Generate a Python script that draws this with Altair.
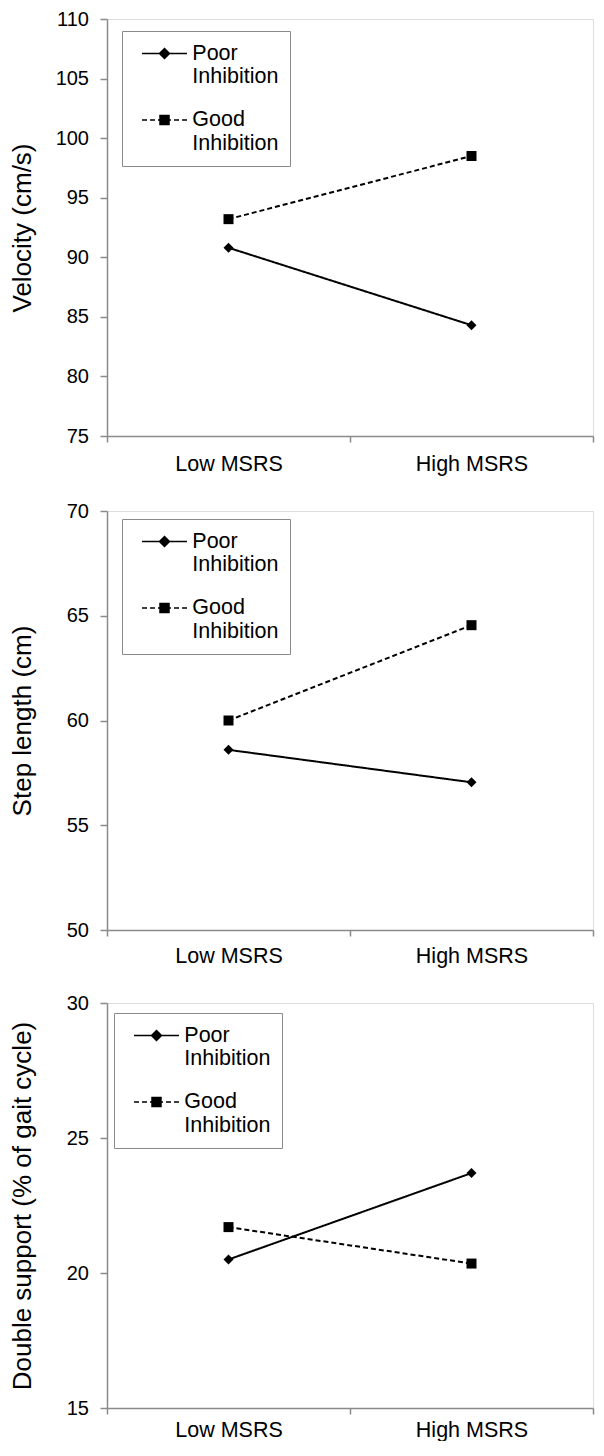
import altair as alt
import pandas as pd

# ---- data ----
categories = ["Low MSRS", "High MSRS"]
series = ["Poor Inhibition", "Good Inhibition"]

velocity_poor = [90.8, 84.3]
velocity_good = [93.2, 98.5]
step_poor = [58.6, 57.05]
step_good = [60.0, 64.55]
dsupport_poor = [20.5, 23.7]
dsupport_good = [21.7, 20.35]

y_titles = ["Velocity (cm/s)", "Step length (cm)", "Double support (% of gait cycle)"]
y_domains = [[75, 110], [50, 70], [15, 30]]
y_ticks = [[75, 80, 85, 90, 95, 100, 105, 110], [50, 55, 60, 65, 70], [15, 20, 25, 30]]

FONT = "Liberation Sans"
GRAY = "#8a8a8a"

# legend symbols (unit = 10 px): line with marker, drawn with strokes only
POOR_PATH = ("M-2.25,0H2.25"
             "M-0.5,0L0,-0.5L0.5,0L0,0.5Z"
             "M-0.35,-0.15H0.35M-0.35,0.15H0.35M-0.2,-0.3H0.2M-0.2,0.3H0.2"
             "M-0.05,-0.45H0.05M-0.05,0.45H0.05")
GOOD_PATH = ("M-2.25,0H-1.75M-1.45,0H-0.95M-0.65,0H-0.45"
             "M0.45,0H0.65M0.95,0H1.45M1.75,0H2.25"
             "M-0.45,-0.45H0.45V0.45H-0.45Z"
             "M-0.45,-0.3H0.45M-0.45,-0.15H0.45M-0.45,0H0.45"
             "M-0.45,0.15H0.45M-0.45,0.3H0.45")

NB = "\u00a0"


def panel(poor, good, title, domain, ticks, width, height, title_x, lx, ly, xlab_pad):
    df = pd.DataFrame({
        "cond": categories * 2,
        "series": [series[0]] * 2 + [series[1]] * 2,
        "value": poor + good,
    })
    x = alt.X("cond:N", sort=categories,
              scale=alt.Scale(paddingInner=0, paddingOuter=0),
              axis=alt.Axis(title=None, labelAngle=0, tickBand="extent",
                            tickSize=6, labelPadding=xlab_pad, labelFontSize=21.5,
                            labelFont=FONT, labelColor="black",
                            domainColor=GRAY, tickColor=GRAY,
                            domainWidth=1.5, tickWidth=1.5))
    y = alt.Y("value:Q",
              scale=alt.Scale(domain=domain, nice=False, zero=False),
              axis=alt.Axis(values=ticks, title=title, grid=False,
                            tickSize=7, labelPadding=11.5, labelFontSize=20,
                            labelFont=FONT, labelColor="black",
                            domainColor=GRAY, tickColor=GRAY,
                            domainWidth=1.5, tickWidth=1.5,
                            titleX=title_x, titleY=height / 2,
                            titleAngle=-90, titleAlign="center",
                            titleBaseline="middle", titleFontSize=26,
                            titleFont=FONT, titleFontWeight="normal",
                            titleColor="black"))
    lines = alt.Chart(df).mark_line(color="black", strokeWidth=2).encode(
        x=x, y=y,
        strokeDash=alt.StrokeDash("series:N",
                                  scale=alt.Scale(domain=series, range=[[1, 0], [5, 3]]),
                                  legend=None),
        detail="series:N",
    )
    pts = alt.Chart(df).mark_point(filled=True, color="black", size=100, opacity=1).encode(
        x=x, y=y,
        shape=alt.Shape("series:N",
                        scale=alt.Scale(domain=series, range=["diamond", "square"]),
                        legend=None),
    )
    leg = alt.Chart(df).transform_filter("datum.value < -1000").mark_point(
        filled=False, color="black").encode(
        x=x, y=y,
        shape=alt.Shape("series:N",
                        scale=alt.Scale(domain=series, range=[POOR_PATH, GOOD_PATH]),
                        legend=alt.Legend(
                            title=None, orient="none", legendX=lx, legendY=ly,
                            symbolSize=400, symbolStrokeWidth=1.5,
                            symbolStrokeColor="black",
                            symbolOpacity=1, symbolOffset=20,
                            labelExpr=("[split(datum.label, ' ')[0], split(datum.label, ' ')[1] + '"
                                       + NB * 3 + "']"),
                            labelFontSize=21.5, labelFont=FONT, labelColor="black",
                            labelOffset=16.8, labelBaseline="middle", rowPadding=21.5,
                            padding=11.5, strokeColor=GRAY, fillColor="white")),
    )
    return alt.layer(lines, pts, leg).resolve_scale(shape="independent").properties(
        width=width, height=height)


p1 = panel(velocity_poor, velocity_good, y_titles[0], y_domains[0], y_ticks[0],
           486, 417, -85, 15, 12, 11)
p2 = panel(step_poor, step_good, y_titles[1], y_domains[1], y_ticks[1],
           486, 419, -85, 15, 8, 9)
p3 = panel(dsupport_poor, dsupport_good, y_titles[2], y_domains[2], y_ticks[2],
           486, 405, -85, 7, 10, 5)

chart = alt.concat(p1, p2, p3, columns=1, align="none", spacing=25).properties(
    padding={"left": 0, "top": 0, "right": 0, "bottom": 0}
).configure_view(stroke=GRAY, strokeWidth=1.5).configure(font=FONT, background="white")

chart.save("out.html", embed_options={"renderer": "svg", "actions": False})
